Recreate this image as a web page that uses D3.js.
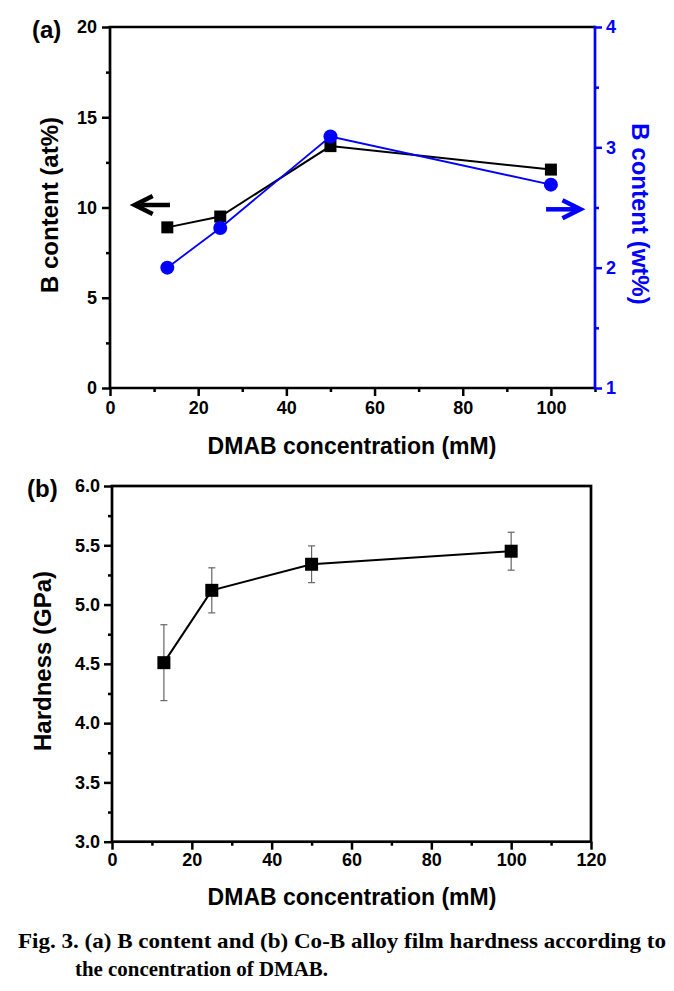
<!DOCTYPE html>
<html>
<head>
<meta charset="utf-8">
<script src="https://cdn.jsdelivr.net/npm/d3@7"></script>
<style>
  html, body { margin: 0; padding: 0; background: #fff; }
  svg { display: block; }
  text { font-family: "Liberation Sans", Arial, sans-serif; font-weight: bold; }
  .cap { font-family: "Liberation Serif", "Times New Roman", serif; }
</style>
</head>
<body>
<svg id="chart" width="674" height="991"></svg>
<script>
// ---------- DATA ----------
const dmabA = [13, 25, 50, 100];
const bContentAt = [8.9, 9.5, 13.4, 12.1];
const bContentWt = [2.0, 2.33, 3.09, 2.69];

const dmabB = [13, 25, 50, 100];
const hardness = [4.51, 5.12, 5.34, 5.45];
const hardnessErr = [0.32, 0.19, 0.155, 0.16];

const xTicksA = [0, 20, 40, 60, 80, 100];
const xMinorA = [10, 30, 50, 70, 90, 110];
const yTicksAt = [0, 5, 10, 15, 20];
const yMinorAt = [2.5, 7.5, 12.5, 17.5];
const yTicksWt = [1, 2, 3, 4];
const yMinorWt = [1.5, 2.5, 3.5];

const xTicksB = [0, 20, 40, 60, 80, 100, 120];
const xMinorB = [10, 30, 50, 70, 90, 110];
const yTicksB = [3.0, 3.5, 4.0, 4.5, 5.0, 5.5, 6.0];
const yMinorB = [3.25, 3.75, 4.25, 4.75, 5.25, 5.75];

const xTitle = "DMAB concentration (mM)";
const captionLine1 = "Fig. 3. (a) B content and (b) Co-B alloy film hardness according to";
const captionLine2 = "the concentration of DMAB.";

// ---------- DRAW ----------
const svg = d3.select("#chart");
svg.append("rect").attr("width", 674).attr("height", 991).attr("fill", "#fff");

const BLUE = "#0000ff";

function styleAxis(g, color, width) {
  g.select(".domain").remove();
  g.selectAll(".tick line").attr("stroke", color).attr("stroke-width", width);
  g.selectAll(".tick text").attr("fill", color).attr("font-size", 18)
    .attr("font-family", '"Liberation Sans", Arial, sans-serif').attr("font-weight", "bold");
}

// ===== Panel (a) =====
const A = { l: 110, r: 595, t: 27, b: 388 };
const xA = d3.scaleLinear().domain([0, 110]).range([A.l, A.r]);
const yAt = d3.scaleLinear().domain([0, 20]).range([A.b, A.t]);
const yWt = d3.scaleLinear().domain([1, 4]).range([A.b, A.t]);

const gA = svg.append("g");

gA.append("g").attr("transform", `translate(0,${A.b})`)
  .call(d3.axisBottom(xA).tickValues(xTicksA).tickSize(8).tickPadding(5).tickFormat(d3.format("d")))
  .call(g => styleAxis(g, "#000", 2.5));
gA.append("g").attr("transform", `translate(0,${A.b})`)
  .call(d3.axisBottom(xA).tickValues(xMinorA).tickSize(4).tickFormat(""))
  .call(g => styleAxis(g, "#000", 2.5));
gA.append("g").attr("transform", `translate(${A.l},0)`)
  .call(d3.axisLeft(yAt).tickValues(yTicksAt).tickSize(8).tickPadding(5).tickFormat(d3.format("d")))
  .call(g => styleAxis(g, "#000", 2.5));
gA.append("g").attr("transform", `translate(${A.l},0)`)
  .call(d3.axisLeft(yAt).tickValues(yMinorAt).tickSize(4).tickFormat(""))
  .call(g => styleAxis(g, "#000", 2.5));
gA.append("g").attr("transform", `translate(${A.r},0)`)
  .call(d3.axisRight(yWt).tickValues(yTicksWt).tickSize(7).tickPadding(4).tickFormat(d3.format("d")))
  .call(g => styleAxis(g, BLUE, 2.5));
gA.append("g").attr("transform", `translate(${A.r},0)`)
  .call(d3.axisRight(yWt).tickValues(yMinorWt).tickSize(4).tickFormat(""))
  .call(g => styleAxis(g, BLUE, 2.5));

gA.append("path").attr("d", `M${A.l},${A.b}V${A.t}H${A.r}`).attr("fill", "none").attr("stroke", "#000").attr("stroke-width", 2.7);
gA.append("line").attr("x1", A.l).attr("x2", A.r).attr("y1", A.b).attr("y2", A.b).attr("stroke", "#000").attr("stroke-width", 2.7);
gA.append("line").attr("x1", A.r).attr("x2", A.r).attr("y1", A.t - 1.3).attr("y2", A.b + 1.3).attr("stroke", BLUE).attr("stroke-width", 2.7);

const lineAt = d3.line().x((d, i) => xA(dmabA[i])).y(d => yAt(d));
gA.append("path").datum(bContentAt).attr("d", lineAt).attr("fill", "none").attr("stroke", "#000").attr("stroke-width", 2);
gA.selectAll(".sqA").data(bContentAt).join("rect")
  .attr("x", (d, i) => xA(dmabA[i]) - 6).attr("y", d => yAt(d) - 6)
  .attr("width", 12).attr("height", 12).attr("fill", "#000");

const lineWt = d3.line().x((d, i) => xA(dmabA[i])).y(d => yWt(d));
gA.append("path").datum(bContentWt).attr("d", lineWt).attr("fill", "none").attr("stroke", BLUE).attr("stroke-width", 1.8);
gA.selectAll(".ciA").data(bContentWt).join("circle")
  .attr("cx", (d, i) => xA(dmabA[i])).attr("cy", d => yWt(d)).attr("r", 7).attr("fill", BLUE);

function arrow(x1, x2, y, color, dir) {
  const tip = x2;
  const head = 18 * dir;
  gA.append("line").attr("x1", x1).attr("x2", tip - dir * 3).attr("y1", y).attr("y2", y)
    .attr("stroke", color).attr("stroke-width", 4.5);
  gA.append("path").attr("d", `M${tip - head},${y - 9}L${tip},${y}L${tip - head},${y + 9}`)
    .attr("fill", "none").attr("stroke", color).attr("stroke-width", 4.5).attr("stroke-linejoin", "miter").attr("stroke-miterlimit", 10);
}
arrow(xA(13.6), xA(5.6), yAt(10.14), "#000", -1);
arrow(xA(98.9), xA(106.7), yWt(2.485), BLUE, 1);

gA.append("text").attr("x", 32).attr("y", 38).attr("font-size", 24).text("(a)");
gA.append("text").attr("transform", `translate(58,205) rotate(-90)`).attr("text-anchor", "middle")
  .attr("font-size", 24).text("B content (at%)");
gA.append("text").attr("transform", `translate(632,214) rotate(90)`).attr("text-anchor", "middle")
  .attr("font-size", 24).attr("fill", BLUE).text("B content (wt%)");
gA.append("text").attr("x", 352).attr("y", 454).attr("text-anchor", "middle").attr("font-size", 23).text(xTitle);

// ===== Panel (b) =====
const B = { l: 112, r: 591, t: 486, b: 841.7 };
const xB = d3.scaleLinear().domain([0, 120]).range([B.l, B.r]);
const yB = d3.scaleLinear().domain([3, 6]).range([B.b, B.t]);
const gB = svg.append("g");

gB.append("g").attr("transform", `translate(0,${B.b})`)
  .call(d3.axisBottom(xB).tickValues(xTicksB).tickSize(8).tickPadding(4).tickFormat(d3.format("d")))
  .call(g => styleAxis(g, "#000", 2.5));
gB.append("g").attr("transform", `translate(0,${B.b})`)
  .call(d3.axisBottom(xB).tickValues(xMinorB).tickSize(4).tickFormat(""))
  .call(g => styleAxis(g, "#000", 2.5));
gB.append("g").attr("transform", `translate(${B.l},0)`)
  .call(d3.axisLeft(yB).tickValues(yTicksB).tickSize(8).tickPadding(4).tickFormat(d3.format(".1f")))
  .call(g => styleAxis(g, "#000", 2.5));
gB.append("g").attr("transform", `translate(${B.l},0)`)
  .call(d3.axisLeft(yB).tickValues(yMinorB).tickSize(4).tickFormat(""))
  .call(g => styleAxis(g, "#000", 2.5));

gB.append("rect").attr("x", B.l).attr("y", B.t).attr("width", B.r - B.l).attr("height", B.b - B.t)
  .attr("fill", "none").attr("stroke", "#000").attr("stroke-width", 2.7);

const eb = gB.append("g").attr("stroke", "#666").attr("stroke-width", 1.2);
hardness.forEach((v, i) => {
  const cx = xB(dmabB[i]);
  const y1 = yB(v + hardnessErr[i]), y2 = yB(v - hardnessErr[i]);
  eb.append("line").attr("x1", cx).attr("x2", cx).attr("y1", y1).attr("y2", y2);
  eb.append("line").attr("x1", cx - 3.5).attr("x2", cx + 3.5).attr("y1", y1).attr("y2", y1);
  eb.append("line").attr("x1", cx - 3.5).attr("x2", cx + 3.5).attr("y1", y2).attr("y2", y2);
});

const lineB = d3.line().x((d, i) => xB(dmabB[i])).y(d => yB(d));
gB.append("path").datum(hardness).attr("d", lineB).attr("fill", "none").attr("stroke", "#000").attr("stroke-width", 2);
gB.selectAll(".sqB").data(hardness).join("rect")
  .attr("x", (d, i) => xB(dmabB[i]) - 6.5).attr("y", d => yB(d) - 6.5)
  .attr("width", 13).attr("height", 13).attr("fill", "#000");

gB.append("text").attr("x", 27).attr("y", 497).attr("font-size", 24).text("(b)");
gB.append("text").attr("transform", `translate(51,661) rotate(-90)`).attr("text-anchor", "middle")
  .attr("font-size", 24).text("Hardness (GPa)");
gB.append("text").attr("x", 352).attr("y", 905).attr("text-anchor", "middle").attr("font-size", 23).text(xTitle);

svg.append("text").attr("class", "cap").attr("x", 18).attr("y", 948).attr("font-size", 21.5)
  .attr("textLength", 648).attr("lengthAdjust", "spacingAndGlyphs").text(captionLine1);
svg.append("text").attr("class", "cap").attr("x", 75).attr("y", 976).attr("font-size", 21.5)
  .attr("textLength", 253).attr("lengthAdjust", "spacingAndGlyphs").text(captionLine2);
</script>
</body>
</html>
